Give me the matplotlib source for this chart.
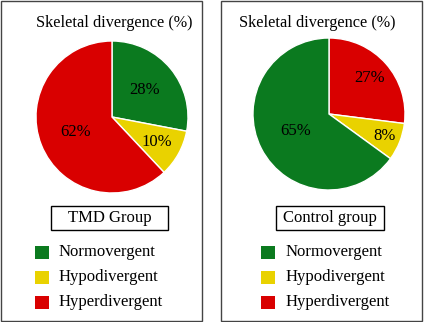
import numpy as np
import matplotlib
matplotlib.use("Agg")
import matplotlib.pyplot as plt
from matplotlib.patches import Rectangle

plt.rcParams['font.family'] = ['Liberation Serif', 'DejaVu Serif']

categories = ["Normovergent", "Hypodivergent", "Hyperdivergent"]
colors = {"Normovergent": "#0B7A1F", "Hypodivergent": "#E9D200", "Hyperdivergent": "#D90000"}

tmd_order = ["Normovergent", "Hypodivergent", "Hyperdivergent"]
tmd_values = [28, 10, 62]
ctrl_order = ["Hyperdivergent", "Hypodivergent", "Normovergent"]
ctrl_values = [27, 8, 65]
group_titles = ["TMD Group", "Control group"]
chart_title = "Skeletal divergence (%)"

W, H = 424, 322
fig = plt.figure(figsize=(W / 100, H / 100), dpi=100)

def fx(x):
    return x / W

def fy(y):
    return 1 - y / H

def panel(x0, x1, cx, cy, r, order, values, label_dist, title_x, box, leg_sq_x, leg_txt_x, group):
    # frame
    fig.patches.append(Rectangle((fx(x0), fy(321)), fx(x1 - x0), (321 - 1) / H,
                                 transform=fig.transFigure, fill=False,
                                 edgecolor="#444444", linewidth=1.0))
    ax = fig.add_axes([fx(cx - r), fy(cy + r), fx(2 * r), 2 * r / H])
    wedges, _ = ax.pie(values, colors=[colors[c] for c in order], startangle=90,
                       counterclock=False, radius=1,
                       wedgeprops=dict(edgecolor="white", linewidth=1.0))
    ax.set_xlim(-1, 1)
    ax.set_ylim(-1, 1)
    ax.set_aspect("equal")
    ax.axis("off")
    total = sum(values)
    cum = 0
    for v, d in zip(values, label_dist):
        mid = 90 - (cum + v / 2) / total * 360
        cum += v
        a = np.deg2rad(mid)
        ax.text(d * np.cos(a), d * np.sin(a), f"{v}%", ha="center", va="center",
                fontsize=12, color="black")
    fig.text(fx(title_x), fy(23), chart_title, ha="center", va="center", fontsize=11.7)
    bx0, bx1, by0, by1 = box
    fig.patches.append(Rectangle((fx(bx0), fy(by1)), fx(bx1 - bx0), (by1 - by0) / H,
                                 transform=fig.transFigure, facecolor="white",
                                 edgecolor="black", linewidth=1.0))
    fig.text(fx((bx0 + bx1) / 2), fy((by0 + by1) / 2), group, ha="center", va="center",
             fontsize=12)
    for i, c in enumerate(categories):
        yc = 252 + i * 25
        fig.patches.append(Rectangle((fx(leg_sq_x), fy(yc + 6.5)), fx(13.5), 13 / H,
                                     transform=fig.transFigure, facecolor=colors[c],
                                     edgecolor="none"))
        fig.text(fx(leg_txt_x), fy(yc), c, ha="left", va="center", fontsize=12)

panel(1, 202, 112, 117, 76, tmd_order, tmd_values, [0.55, 0.68, 0.52], 114,
      (51, 168, 206, 230), 35, 59, group_titles[0])
panel(221, 422, 329, 114, 76, ctrl_order, ctrl_values, [0.72, 0.78, 0.5], 317,
      (276, 384, 206, 230), 261, 286, group_titles[1])

fig.savefig("out.png", dpi=100, facecolor="white")
